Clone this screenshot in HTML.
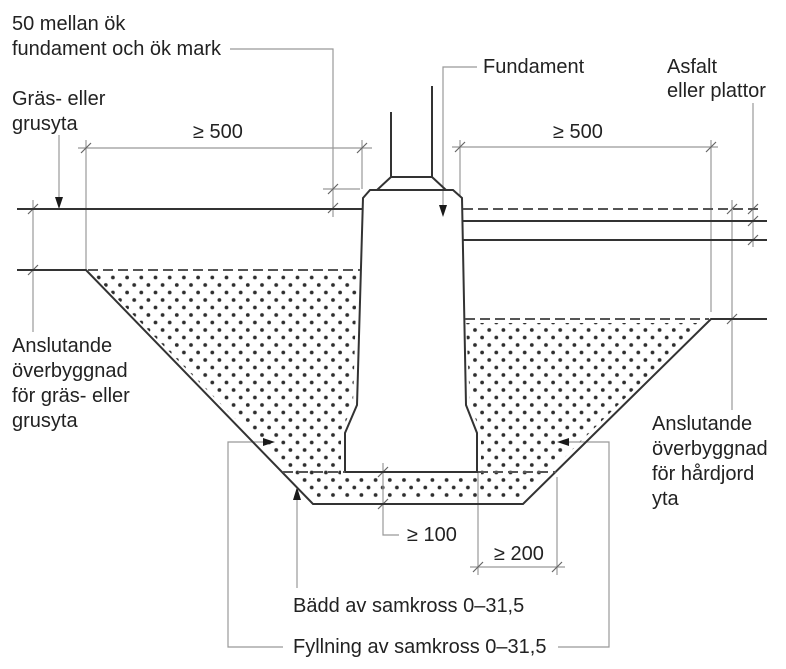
<!DOCTYPE html>
<html>
<head>
<meta charset="utf-8">
<style>
html,body{margin:0;padding:0;background:#fff;}
svg{display:block;}
text{font-family:"Liberation Sans",Arial,sans-serif;font-size:20px;fill:#222;}
</style>
</head>
<body>
<svg width="786" height="669" viewBox="0 0 786 669" xmlns="http://www.w3.org/2000/svg">
<defs>
  <pattern id="dots" patternUnits="userSpaceOnUse" x="9.95" y="3.75" width="14.2" height="15">
    <circle cx="3.55" cy="3.75" r="1.9" fill="#2e2e2e"/>
    <circle cx="10.65" cy="11.25" r="1.9" fill="#2e2e2e"/>
  </pattern>
  <clipPath id="fillclip">
    <polygon points="93,274 357,274 353,405 341,433 341,476 481,476 481,433 470,405 466,323 702,323 521,500 315,500"/>
  </clipPath>
</defs>

<!-- stipple fill -->
<rect x="0" y="0" width="786" height="669" fill="url(#dots)" clip-path="url(#fillclip)"/>

<!-- dimension / leader lines (thin gray) -->
<g stroke="#999" stroke-width="1.2" fill="none">
  <path d="M78 148 H372 M86 140 V270 M362 140 V189"/>
  <path d="M230 49 H333 V217 M323 189 H360"/>
  <path d="M59 135 V199"/>
  <path d="M33 200 V332"/>
  <path d="M452 147 H718 M460 140 V197 M711 140 V312"/>
  <path d="M477 67 H443 V206"/>
  <path d="M753 103 V247"/>
  <path d="M732 200 V410"/>
  <path d="M383 463 V535 H399"/>
  <path d="M470 567 H565 M478 472 V575 M557 477 V575"/>
  <path d="M297 588 V499"/>
  <path d="M283 647 H228 V442 H264 M558 647 H609 V442 H568"/>
</g>

<!-- ticks -->
<g stroke="#666" stroke-width="1.2">
  <path d="M81 153 L91 143 M357 153 L367 143"/>
  <path d="M328 194 L338 184 M328 213 L338 203"/>
  <path d="M28 214 L38 204 M28 275 L38 265"/>
  <path d="M455 152 L465 142 M706 152 L716 142"/>
  <path d="M748 214 L758 204 M748 226 L758 216 M748 245 L758 235"/>
  <path d="M727 214 L737 204 M727 324 L737 314"/>
  <path d="M378 477 L388 467 M378 509 L388 499"/>
  <path d="M473 572 L483 562 M552 572 L562 562"/>
</g>

<!-- arrowheads -->
<g fill="#1a1a1a">
  <polygon points="55,197 63,197 59,209"/>
  <polygon points="439,205 447,205 443,217"/>
  <polygon points="293,500 301,500 297,487"/>
  <polygon points="263,438 263,446 275,442"/>
  <polygon points="569,438 569,446 557,442"/>
</g>

<!-- main lines -->
<g stroke="#333" stroke-width="2" fill="none" stroke-linejoin="miter">
  <path d="M17 209 H363"/>
  <path d="M17 270 H86 L313 504 H523 L711 319 H767"/>
  <path d="M363 198 L370 190 H453 L462 198 L466 405 L477 433 V472 H345 V433 L357 405 Z"/>
  <path d="M391 112 V177 H432 V86 M391 177 L377 190 M432 177 L446 190"/>
  <path d="M462 221 H767 M462 240 H767"/>
</g>
<g stroke="#555" stroke-width="2" fill="none" stroke-dasharray="10 5">
  <path d="M463 209 H763"/>
  <path d="M88 270 H360"/>
  <path d="M465 319 H709"/>
  <path d="M283 472 H345"/>
  <path d="M478 472 H556"/>
</g>

<!-- labels -->
<text x="12" y="30">50 mellan ök</text>
<text x="12" y="55">fundament och ök mark</text>
<text x="12" y="105">Gräs- eller</text>
<text x="12" y="130">grusyta</text>
<text x="193" y="138">≥ 500</text>
<text x="553" y="138">≥ 500</text>
<text x="483" y="73">Fundament</text>
<text x="667" y="73">Asfalt</text>
<text x="667" y="97">eller plattor</text>

<text x="12" y="352">Anslutande</text>
<text x="12" y="377">överbyggnad</text>
<text x="12" y="402">för gräs- eller</text>
<text x="12" y="427">grusyta</text>

<text x="652" y="430">Anslutande</text>
<text x="652" y="455">överbyggnad</text>
<text x="652" y="480">för hårdjord</text>
<text x="652" y="505">yta</text>

<text x="407" y="541">≥ 100</text>
<text x="494" y="560">≥ 200</text>
<text x="293" y="612">Bädd av samkross 0–31,5</text>
<text x="293" y="653">Fyllning av samkross 0–31,5</text>
</svg>
</body>
</html>
